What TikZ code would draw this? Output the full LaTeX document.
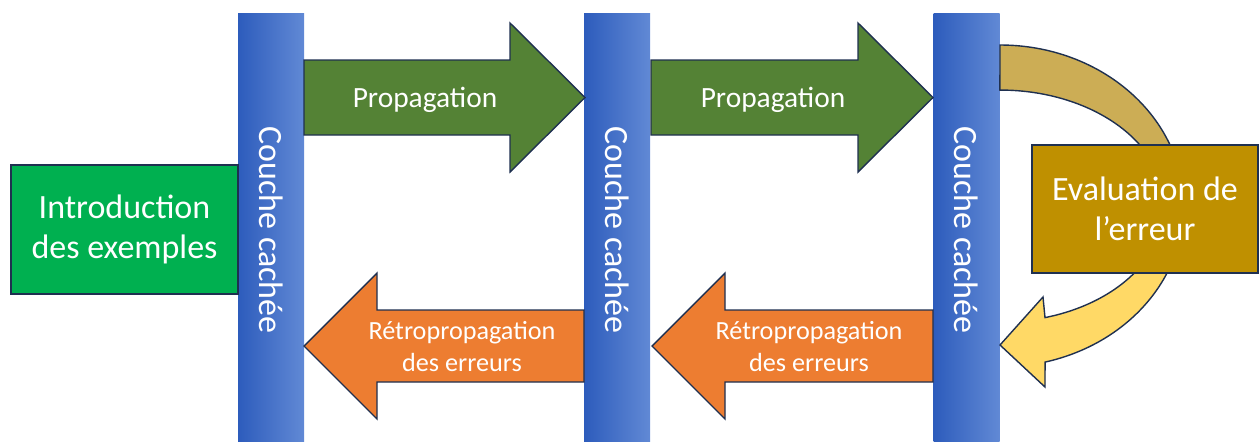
\documentclass[tikz,border=0pt]{standalone}
\usepackage{fontspec}
\setmainfont{Carlito}
\usetikzlibrary{calc}
\definecolor{barL}{HTML}{2D5CBC}
\definecolor{barR}{HTML}{6189D5}
\definecolor{greenbox}{HTML}{00B050}
\definecolor{arrowgreen}{HTML}{548235}
\definecolor{arroworange}{HTML}{ED7D31}
\definecolor{goldbox}{HTML}{BF9000}
\definecolor{goldtop}{HTML}{CCAD55}
\definecolor{goldbot}{HTML}{FFD966}
\definecolor{outl}{HTML}{1F3050}
\begin{document}
\begin{tikzpicture}[x=0.5pt,y=-0.5pt,
  bar/.style={left color=barL,right color=barR,draw=none,minimum width=33pt,minimum height=214pt,inner sep=0pt},
  bartext/.style={rotate=-90,text=white,font=\fontsize{17}{20}\selectfont,inner sep=0pt},
  box/.style={draw=outl,line width=0.7pt,text=white,align=center,inner sep=0pt,font=\fontsize{17}{20}\selectfont},
  arrowshape/.style={draw=outl,line width=0.7pt,line join=miter},
  arrowtext/.style={text=white,align=center,inner sep=0pt},
]
\useasboundingbox (0,0) rectangle (1259,441);
% hidden layers
\node[bar] (b1) at (271,227) {};
\node[bar] (b2) at (617,227) {};
\node[bar] (b3) at (966.5,227) {};
\node[bartext] (t1) at (271,230) {Couche cachée};
\node[bartext] (t2) at (617,230) {Couche cachée};
\node[bartext] (t3) at (966,230) {Couche cachée};
% input box
\node[box,fill=greenbox,minimum width=113.5pt,minimum height=64.5pt] (intro) at (124.5,229.5) {Introduction\\des exemples};
% forward arrows
\path[arrowshape,fill=arrowgreen] (304,60) -- (510,60) -- (510,23) -- (585,97.5) -- (510,172) -- (510,135) -- (304,135) -- cycle;
\path[arrowshape,fill=arrowgreen] (651,60) -- (858,60) -- (858,23) -- (933,97.5) -- (858,172) -- (858,135) -- (651,135) -- cycle;
\node[arrowtext,font=\fontsize{14.7}{17}\selectfont] (p1) at (425,100) {Propagation};
\node[arrowtext,font=\fontsize{14.7}{17}\selectfont] (p2) at (773,100) {Propagation};
% backward arrows
\path[arrowshape,fill=arroworange] (584,310) -- (377,310) -- (377,273) -- (304,346) -- (377,419) -- (377,382) -- (584,382) -- cycle;
\path[arrowshape,fill=arroworange] (933,310) -- (725,310) -- (725,273) -- (652,346) -- (725,419) -- (725,382) -- (933,382) -- cycle;
\node[arrowtext,font=\fontsize{13.1}{16}\selectfont] (r1) at (462,347) {Rétropropagation\\des erreurs};
\node[arrowtext,font=\fontsize{13.1}{16}\selectfont] (r2) at (809,347) {Rétropropagation\\des erreurs};
% curved arrow
\def\curvearrow{(1000,45) arc[start angle=90,end angle=-75.8,x radius=183.7,y radius=-161] -- (1045,387) -- (1000,345) -- (1043,297) -- (1045,317.6) arc[start angle=-74.1,end angle=90,x radius=164.6,y radius=-116] -- cycle}
\fill[goldtop] \curvearrow;
\begin{scope}
\clip (1000,210) rectangle (1259,441);
\fill[goldbot] \curvearrow;
\end{scope}
\draw[outl,line width=0.7pt,line join=miter] \curvearrow;
% error box
\node[box,fill=goldbox,minimum width=113pt,minimum height=64pt] (eval) at (1145,209) {Evaluation de\\l’erreur};
\end{tikzpicture}
\end{document}
